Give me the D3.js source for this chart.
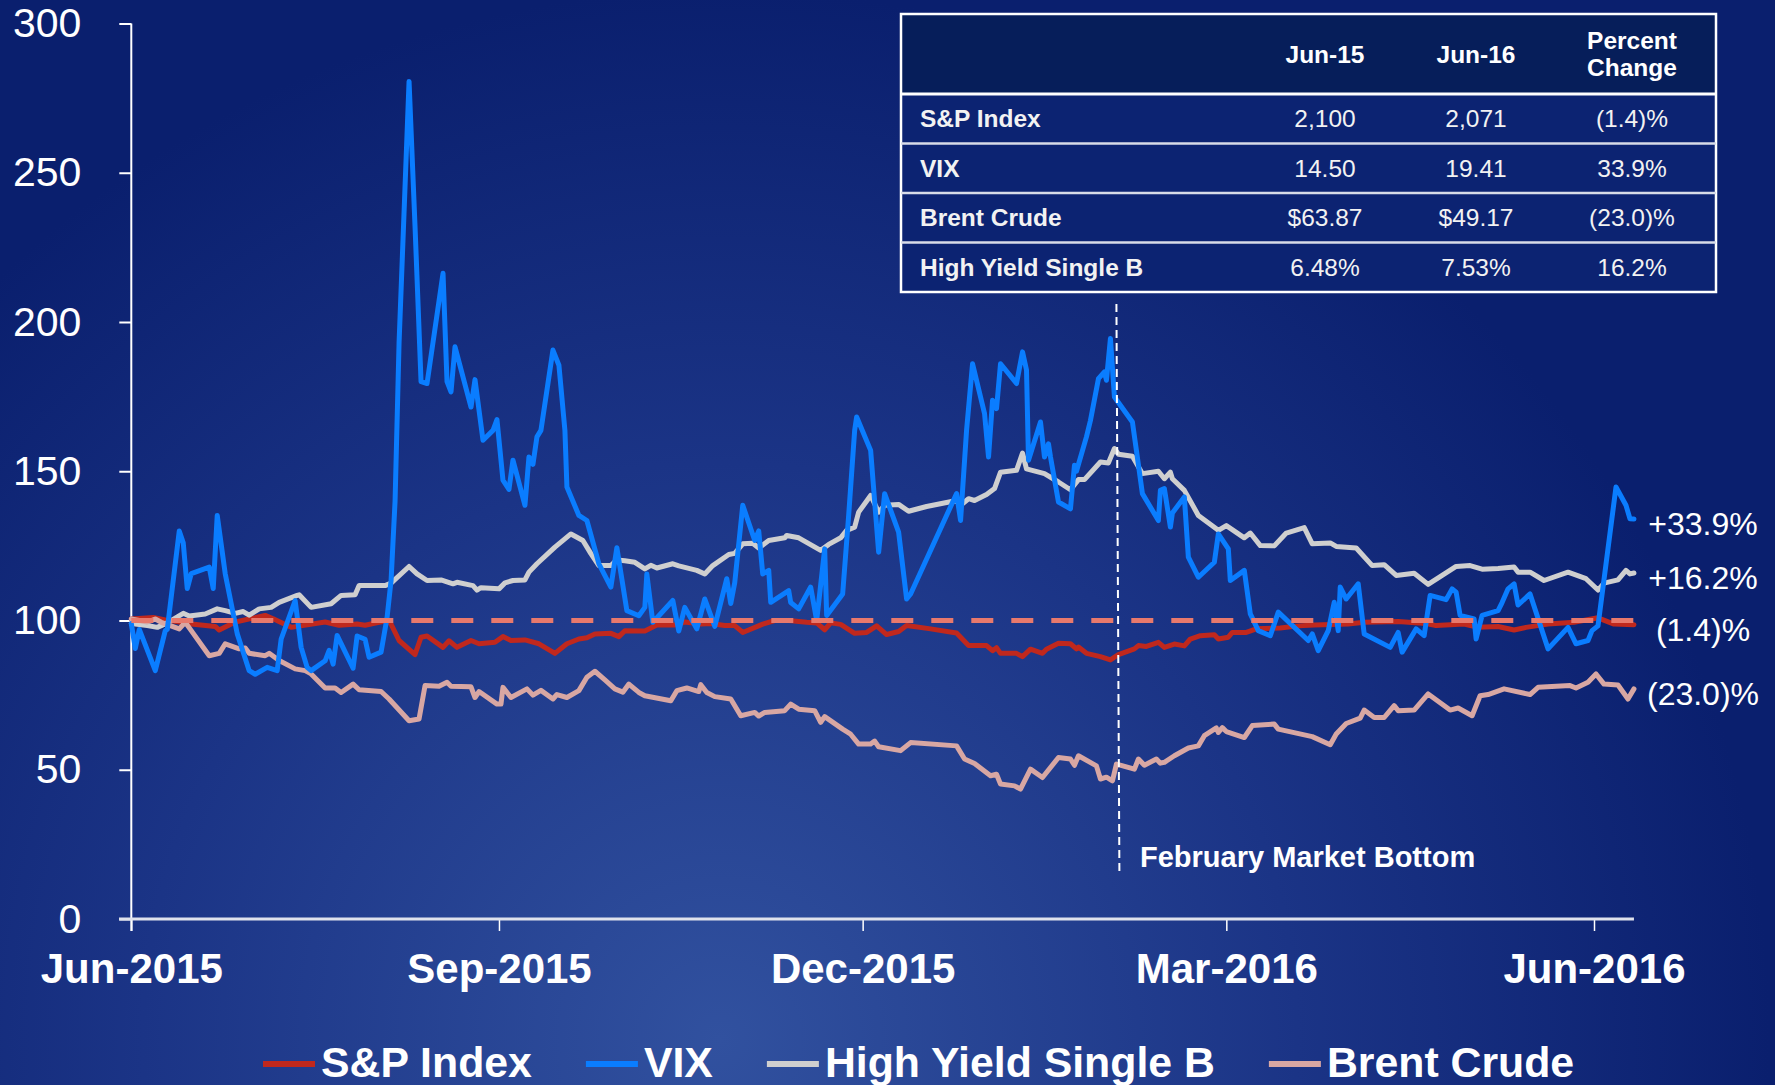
<!DOCTYPE html>
<html>
<head>
<meta charset="utf-8">
<script src="https://cdn.jsdelivr.net/npm/d3@7"></script>
<style>
  html, body { margin: 0; padding: 0; background: #0b2170; }
  svg { display: block; font-family: "Liberation Sans", Arial, sans-serif; }
</style>
</head>
<body>
<svg id="chart"></svg>
<script>
// each point: [days after 1 Jun 2015, index value (start = 100)]
var spData = [[0,100.5],[5.5,101],[8.5,100.2],[15,98.8],[21,98],[22,96.8],[26,99.5],[33.5,101.7],[35.5,100.6],[40,97.7],[48.5,99.5],[52,98.4],[56.5,98.8],[58.5,98.4],[64,100],[65,98.8],[67,93.3],[71,88.6],[72.5,94.4],[74,94.8],[78,91],[79.5,93.2],[81.5,91],[85,93.3],[87,92.2],[91,92.7],[93,94.6],[95,93.3],[98.5,93.5],[102,92.2],[106,89],[109,92.2],[112,93.8],[114,94.2],[116,95.5],[120,95.7],[122,94.6],[123.5,96.6],[128.5,96.5],[131.5,98.5],[136,98.5],[138.5,99.5],[142.5,98.8],[145,99],[148.5,98.3],[151,98.3],[153,96],[158,98.8],[161,100],[164.5,100],[169,99.4],[171.5,99.2],[173.5,96.9],[175,99.2],[177.5,98.7],[181,95.7],[184,96],[186.5,98.2],[189,95.3],[192,96.3],[194,98.3],[200,97.2],[206.5,95.8],[209.5,91.6],[214,91.6],[215.5,89.9],[216.5,90.9],[217.5,89],[221.5,89],[223,87.9],[225,90.4],[228,89],[229,90.4],[232,92.4],[235,92.2],[236.5,90.5],[237,91.1],[239,89],[242.5,87.9],[245,86.8],[247,88.6],[251,90.5],[252,91.6],[254,91.3],[257,92.7],[258.5,91],[261,92.1],[263.5,91.5],[265,93.8],[267.5,94.9],[271,95.2],[272,93.8],[274.5,94.4],[275.5,96],[279,96],[281.5,97.2],[287.5,97.5],[292,98.2],[296,98.5],[304.5,98.8],[308.5,99.4],[317,99.7],[324,99],[326.5,98.3],[333.5,98.8],[337,97.7],[342,98],[346,96.8],[349,97.7],[354.5,98.8],[361,99.4],[367,100.9],[371,98.8],[376,98.6]];

var vixData = [[0,99],[1,90.6],[2,97],[6,83.2],[8.5,96.6],[9,97],[12,130],[13,126],[14,110.7],[15,115.7],[19.5,117.9],[20.5,110.7],[21.5,135.2],[23.5,115.7],[26.5,95.6],[29.5,83.2],[31,82],[34,84.3],[36.5,83.2],[37.5,93.8],[41,106.7],[42.5,91],[44,84.3],[45,83.2],[48.5,86.5],[49.5,90],[50.5,85.4],[51.5,95],[55.5,84],[56.5,94.8],[58.5,93.7],[59.5,87.7],[62.5,89.4],[64,101],[65,113.4],[66,140],[67,193],[68,228],[69.5,280.6],[71,231.9],[72.5,180],[74,179.4],[78,216.3],[79,180],[80,176.6],[81,191.7],[85,171.5],[86,180.7],[88,160.4],[90.5,163.7],[91.5,167.3],[93,147],[94.5,143.9],[95.5,153.7],[98.5,138.6],[99.5,154.8],[100.5,152.3],[101.5,161.5],[102.5,163.7],[105.5,190.6],[107,185.5],[108.5,163.7],[109,144.7],[112,135.2],[114,133.5],[117,119],[120,111.2],[121.5,124.4],[124,103.3],[127,101.6],[128.5,104.4],[129,115.6],[130.5,99.4],[135.5,106.7],[137,96.5],[138.5,104.4],[141.5,97.2],[143.5,107.2],[146,98],[149,114],[150,105.7],[151,112.7],[153,138.6],[156,126.8],[157,130],[158,115.6],[159.5,116.8],[160,106.1],[164.5,110],[165,106],[167,103.9],[170,111.2],[171.5,100],[173.5,124],[174,101.7],[178,108.9],[179.5,135.2],[181,163.7],[181.5,168.2],[185,157],[187,122.9],[188.5,142.5],[192,129.6],[194,107.2],[195,108.9],[206.5,142.5],[207.5,133.5],[209,163.7],[210.5,186],[213.5,169.3],[214.5,154.8],[215.5,173.8],[216.5,171],[217.5,186],[221.5,179.4],[223,190],[224,183.9],[224.5,153.7],[227.5,166.5],[228.5,154.8],[229.5,159.2],[230,154.8],[232,139.7],[235,137.4],[236,152],[236.5,150],[239,161.5],[240,167],[242,181],[243.5,183.3],[244,180.5],[245,194.5],[246,174.9],[250.5,166.5],[251.5,157],[253,142.5],[257,133.5],[257.5,143.6],[258.5,144.2],[260,131.3],[260.5,136],[263.5,141.4],[264.5,121.2],[267,114.5],[271,119.5],[272,129],[274.5,124],[275,113.4],[278.5,116.8],[280,102.2],[282,96.6],[285,94.9],[287,102.8],[294.5,93.3],[295.5,95.5],[297,89.9],[299.5,96.6],[301,106.1],[302,96.6],[302.5,111.2],[304,107.2],[307,112.3],[308.5,95.5],[315,91],[317,96],[318,89.4],[321.5,97.2],[323.5,94.9],[325,108.4],[329,107],[330.5,110.6],[331.5,109.5],[332.5,101.7],[336,100.5],[336.5,93.8],[338,101.7],[342,103.3],[343,106],[344.5,110.6],[346,112.3],[347,105.2],[350,108.9],[354.5,90.5],[359.5,97.7],[361.5,92.2],[364.5,93.3],[365.5,96.6],[367,98.2],[371.5,144.7],[374,138.6],[375,134.1],[376,134]];

var hyData = [[0,99],[4,98.3],[6.5,97.7],[9,99.2],[13,102.4],[14.5,101.5],[18.5,102.2],[21.5,103.9],[23.5,103.3],[26,102.4],[28,103],[29.5,101.8],[32,103.9],[35,104.4],[37,106.1],[41.5,108.4],[42,108.6],[45,104.4],[50,105.6],[52.5,108.4],[56,108.6],[57,111.7],[63.5,111.7],[65,112.5],[69.5,118.1],[71.5,115.6],[74,113.4],[77.5,113.6],[80.5,112.3],[81.5,112.8],[85.5,111.7],[86.5,110.2],[87.5,111],[92,110.6],[93.5,112.6],[95.5,113.4],[98.5,113.6],[99.5,116.2],[101.5,119],[106,124.6],[110,129],[113,126.8],[115,122.4],[117,118.4],[120,118.4],[121.5,120.3],[123.5,120],[126,119.5],[128.5,117.3],[130,118.5],[131.5,117.6],[135.5,119],[137,118.3],[141.5,116.8],[143.5,115.6],[145.5,118.4],[149.5,122.1],[151,122.5],[153,125.7],[155.5,125.9],[157,124.3],[159.5,126.8],[163.5,127.7],[164,128.5],[167,127.7],[172.5,123.5],[174.5,125.5],[177.5,127.7],[179,130.2],[181,131.3],[182,136.3],[185,141.9],[187,136.3],[188.5,138.6],[192,138.9],[194.5,136.6],[199,138.2],[206.5,140.2],[207.5,138.6],[209.5,140.8],[211,140.2],[214,142.2],[216,144.2],[217.5,149.7],[221.5,150.3],[223,156.1],[224,150.8],[228.5,149.2],[232,146.4],[235,143.8],[237,147.2],[238.5,147.2],[242.5,153.1],[244.5,152.8],[246,157.6],[247,155.7],[250.5,155],[253,149.2],[257,150],[258.5,147.5],[260,149.7],[260.5,147.5],[263.5,143.6],[267,135.2],[272,130.2],[274,131.8],[278.5,127.7],[280,129.3],[282.5,125.1],[286,125],[289,129.3],[293.5,131.1],[295.5,125.7],[300,126],[301.5,124.8],[306.5,124.3],[310.5,118.4],[313.5,118.7],[316.5,115.1],[321,115.8],[324.5,112.1],[328,115.1],[331.5,118.1],[335,118.4],[338,117.2],[342,117.4],[346,117.9],[347,116.2],[350,116.2],[353.5,113.4],[359.5,116.2],[364,114],[367,110.2],[368.5,112.5],[372,113.6],[374,116.8],[375,115.6],[376,115.9]];

var brentData = [[0,100.5],[4,99.5],[6,100.5],[7.5,99.4],[12,97.2],[13.5,99.4],[15,96.6],[19.5,88.2],[22,89],[23.5,92.2],[27,90.5],[28.5,90.8],[29.5,89],[33.5,88.2],[34.5,89],[37,86.6],[41,83.8],[43.5,83.2],[45,82.1],[48.5,77.4],[51,77.4],[52.5,75.9],[55.5,78.7],[57,76.8],[62.5,76.2],[64.5,73.7],[69.5,66.4],[72,67],[73.5,78.2],[77,78],[79,79.3],[80,78],[85,77.8],[86,74.2],[87,76.2],[91.5,72],[92.5,72],[93,77.6],[95,74.2],[99,77.1],[100.5,75],[102.5,76.6],[105.5,73.7],[106.5,75.2],[109,74.2],[112,76.5],[114,81],[116,83],[118.5,80.1],[121,77.1],[123,76],[124.5,78.7],[127,75.9],[128.5,74.8],[135,73.1],[136.5,76.5],[139,77.4],[142,76.2],[142.5,78.5],[144,75.9],[146,74.5],[150,73.7],[152.5,68.1],[156,69.2],[157,68],[158.5,69.2],[163.5,69.8],[165,72],[167,70.3],[171,69.8],[172.5,65.9],[173.5,67.8],[178,63.6],[180,61.9],[182,58.6],[185,58.6],[186,59.6],[187,57.7],[192.5,56.4],[195,59.1],[206.5,58],[208.5,53.6],[211,52.1],[215,48],[216.5,48.5],[217.5,45.2],[221,44.6],[222.5,43.5],[225,50.2],[228,47.4],[232,54.1],[235,53.6],[236,51.5],[237,54.7],[241.5,51.3],[242.5,46.9],[244,47.5],[245.5,46.3],[246.5,51.9],[251,50.2],[252,53.6],[253.5,51.5],[256.5,53.6],[257.5,52.2],[258.5,52.5],[261,54.7],[264.5,57.3],[267,58],[268.5,61.4],[271.5,64],[272,62.5],[273,64.1],[274,62.8],[278.5,60.8],[280.5,64.8],[286,65.3],[287,63.6],[295.5,61.1],[300,58.4],[301.5,62],[304,65.5],[307.5,67.3],[308.5,70],[311,67.5],[313.5,67.5],[316,71.5],[317,69.8],[321,70],[324.5,75.4],[330,70],[332,70.7],[335.5,68.1],[337.5,74.8],[339.5,75.2],[343.5,77.1],[350,75.2],[352,77.6],[360,78.2],[361.5,77.4],[364.5,79.3],[366.5,82.1],[368.5,78.7],[372,78.4],[374.5,73.7],[376,77.1]];

var seriesNames = ["S&P Index", "VIX", "High Yield Single B", "Brent Crude"];
var seriesColors = ["#c0281d", "#0a7dff", "#cfcfcf", "#d8a7a3"];
var endLabels = ["(1.4)%", "+33.9%", "+16.2%", "(23.0)%"];

var yTicks = [0, 50, 100, 150, 200, 250, 300];
var xTickDates = ["2015-06-01", "2015-09-01", "2015-12-01", "2016-03-01", "2016-06-01"];
var xTickLabels = ["Jun-2015", "Sep-2015", "Dec-2015", "Mar-2016", "Jun-2016"];

var tableHeader = ["", "Jun-15", "Jun-16", "Percent Change"];
var tableRows = [
  ["S&P Index", "2,100", "2,071", "(1.4)%"],
  ["VIX", "14.50", "19.41", "33.9%"],
  ["Brent Crude", "$63.87", "$49.17", "(23.0)%"],
  ["High Yield Single B", "6.48%", "7.53%", "16.2%"]
];

var baselineValue = 100;
var marketBottomDay = 246.5;
var marketBottomLabel = "February Market Bottom";

var width = 1775, height = 1085;
var startDate = new Date(Date.UTC(2015, 5, 1));

const dayToDate = (d) => new Date(startDate.getTime() + d * 864e5);

var svg = d3.select("#chart").attr("width", width).attr("height", height);

// background
var defs = svg.append("defs");
var grad = defs.append("radialGradient")
  .attr("id", "bg")
  .attr("gradientUnits", "userSpaceOnUse")
  .attr("cx", 720).attr("cy", 1040).attr("r", 1050);
grad.append("stop").attr("offset", "0%").attr("stop-color", "#31519f");
grad.append("stop").attr("offset", "55%").attr("stop-color", "#1b3486");
grad.append("stop").attr("offset", "100%").attr("stop-color", "#0a1f6e");
svg.append("rect").attr("width", width).attr("height", height).attr("fill", "url(#bg)");

var x = d3.scaleUtc()
  .domain([new Date(xTickDates[0]), new Date(xTickDates[xTickDates.length - 1])])
  .range([131.3, 1594]);

var y = d3.scaleLinear().domain([0, 300]).range([919, 23.5]);

// y axis
var yAxis = svg.append("g")
  .attr("transform", "translate(131.3,0)")
  .call(d3.axisLeft(y).tickValues(yTicks).tickSize(12).tickPadding(38));
yAxis.select(".domain").remove();
yAxis.selectAll("line").attr("stroke", "#ffffff").attr("stroke-width", 2);
yAxis.selectAll("text")
  .attr("fill", "#ffffff")
  .style("font-size", "41px")
  .style("font-family", "Liberation Sans, Arial, sans-serif");

svg.append("line")
  .attr("x1", 131.3).attr("x2", 131.3)
  .attr("y1", y(300)).attr("y2", y(0) + 12)
  .attr("stroke", "#ffffff").attr("stroke-width", 2);

// x axis
var xAxis = svg.append("g")
  .attr("transform", `translate(0,${y(0)})`)
  .call(d3.axisBottom(x)
    .tickValues(xTickDates.map((d) => new Date(d)))
    .tickFormat((d, i) => xTickLabels[i])
    .tickSize(12)
    .tickPadding(22));
xAxis.select(".domain").remove();
xAxis.selectAll("line").attr("stroke", "#ffffff").attr("stroke-width", 1.5);
xAxis.selectAll("text")
  .attr("fill", "#ffffff")
  .style("font-size", "42px")
  .style("font-weight", "bold")
  .style("font-family", "Liberation Sans, Arial, sans-serif");

var lastDay = d3.max(spData, (d) => d[0]);

svg.append("line")
  .attr("x1", 119).attr("x2", x(dayToDate(lastDay)))
  .attr("y1", y(0)).attr("y2", y(0))
  .attr("stroke", "#dfe2ec").attr("stroke-width", 3);

// series
var line = d3.line()
  .x((d) => x(dayToDate(d[0])))
  .y((d) => y(d[1]))
  .curve(d3.curveLinear);

var allSeries = [spData, vixData, hyData, brentData];
var drawOrder = [0, 2, 3, 1];

drawOrder.forEach((i) => {
  svg.append("path")
    .datum(allSeries[i])
    .attr("class", "series")
    .attr("d", line)
    .attr("fill", "none")
    .attr("stroke", seriesColors[i])
    .attr("stroke-width", 5)
    .attr("stroke-linejoin", "round")
    .attr("stroke-linecap", "round");
});

// 100 baseline
svg.append("line")
  .attr("x1", x(dayToDate(0))).attr("x2", x(dayToDate(lastDay)))
  .attr("y1", y(baselineValue)).attr("y2", y(baselineValue))
  .attr("stroke", "#e8796c")
  .attr("stroke-width", 5)
  .attr("stroke-dasharray", "22,18");

// end labels
allSeries.forEach((s, i) => {
  svg.append("text")
    .attr("x", 1703)
    .attr("y", y(s[s.length - 1][1]) + 5)
    .attr("text-anchor", "middle")
    .attr("dominant-baseline", "central")
    .attr("fill", "#ffffff")
    .style("font-size", "32px")
    .text(endLabels[i]);
});

// February market bottom marker
var mbX = x(dayToDate(marketBottomDay));
svg.append("line")
  .attr("x1", mbX).attr("x2", mbX + 3)
  .attr("y1", 304).attr("y2", 876)
  .attr("stroke", "#ffffff")
  .attr("stroke-width", 2)
  .attr("stroke-dasharray", "8,5");

svg.append("text")
  .attr("x", 1140)
  .attr("y", 867)
  .attr("fill", "#ffffff")
  .style("font-size", "29px")
  .style("font-weight", "bold")
  .text(marketBottomLabel);

// summary table
var table = { left: 901, right: 1716, top: 14, headH: 80, rowH: 49.5 };
var colX = [920, 1325, 1476, 1632];

var tg = svg.append("g");
tg.append("rect")
  .attr("x", table.left).attr("y", table.top)
  .attr("width", table.right - table.left).attr("height", table.headH)
  .attr("fill", "#061e5a");

tableRows.forEach((row, r) => {
  tg.append("rect")
    .attr("x", table.left)
    .attr("y", table.top + table.headH + r * table.rowH)
    .attr("width", table.right - table.left)
    .attr("height", table.rowH)
    .attr("fill", "#0c2372");
});

var tableBottom = table.top + table.headH + tableRows.length * table.rowH;
tg.append("rect")
  .attr("x", table.left).attr("y", table.top)
  .attr("width", table.right - table.left)
  .attr("height", tableBottom - table.top)
  .attr("fill", "none")
  .attr("stroke", "#ffffff")
  .attr("stroke-width", 2.5);

for (let r = 0; r < tableRows.length; r++) {
  var ly = table.top + table.headH + r * table.rowH;
  tg.append("line")
    .attr("x1", table.left).attr("x2", table.right)
    .attr("y1", ly).attr("y2", ly)
    .attr("stroke", r == 0 ? "#ffffff" : "#d8dce8")
    .attr("stroke-width", r == 0 ? 3 : 2.5);
}

tableHeader.forEach((h, c) => {
  if (!h) return;
  var words = h.split(" ");
  var midY = table.top + table.headH / 2;
  words.forEach((w, k) => {
    tg.append("text")
      .attr("x", colX[c])
      .attr("y", midY + (k - (words.length - 1) / 2) * 27)
      .attr("text-anchor", "middle")
      .attr("dominant-baseline", "central")
      .attr("fill", "#ffffff")
      .style("font-size", "24.5px")
      .style("font-weight", "bold")
      .text(w);
  });
});

tableRows.forEach((row, r) => {
  var cy = table.top + table.headH + r * table.rowH + table.rowH / 2;
  row.forEach((cell, c) => {
    tg.append("text")
      .attr("x", colX[c])
      .attr("y", cy)
      .attr("text-anchor", c == 0 ? "start" : "middle")
      .attr("dominant-baseline", "central")
      .attr("fill", "#f2f2f2")
      .style("font-size", "24.5px")
      .style("font-weight", c == 0 ? "bold" : "normal")
      .text(cell);
  });
});

// legend
var legend = svg.append("g");
var lx = 263;
seriesNames.forEach((name, i) => {
  legend.append("line")
    .attr("x1", lx).attr("x2", lx + 52)
    .attr("y1", 1064).attr("y2", 1064)
    .attr("stroke", seriesColors[i])
    .attr("stroke-width", 6);
  var t = legend.append("text")
    .attr("x", lx + 58)
    .attr("y", 1077)
    .attr("fill", "#ffffff")
    .style("font-size", "42.8px")
    .style("font-weight", "bold")
    .text(name);
  lx += 58 + t.node().getComputedTextLength() + 54;
});
</script>
</body>
</html>
